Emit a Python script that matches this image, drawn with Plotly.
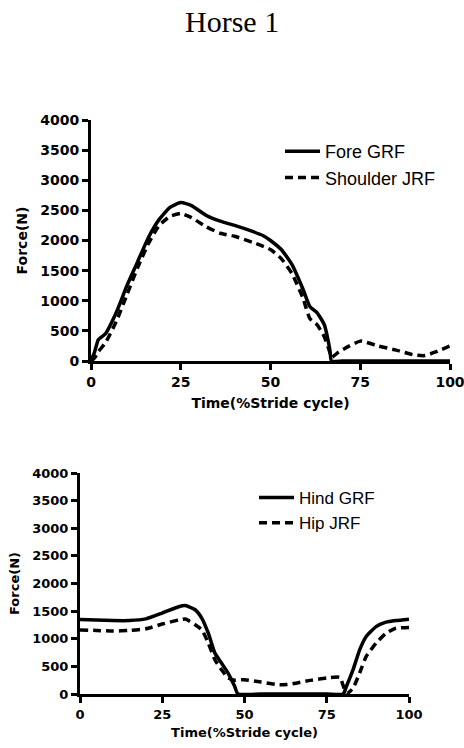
import plotly.graph_objects as go

# ---- data ----
fore_x = [0, 1, 2, 2.5, 4, 7, 10, 13, 16, 19, 22, 25, 28, 32, 36, 40, 45, 48, 50, 53, 56, 59, 61, 63, 65, 66.5, 67, 70, 80, 90, 100]
fore_y = [0, 150, 350, 380, 450, 800, 1250, 1650, 2050, 2350, 2550, 2630, 2580, 2420, 2320, 2250, 2150, 2080, 2000, 1850, 1600, 1200, 900, 800, 600, 200, 0, 0, 0, 0, 0]

shoulder_x = [0, 1, 2, 4, 7, 10, 13, 16, 19, 22, 25, 28, 32, 36, 40, 45, 50, 53, 56, 59, 61, 63, 65, 66.5, 67, 69, 72, 75, 80, 85, 90, 93, 96, 100]
shoulder_y = [0, 50, 150, 300, 650, 1100, 1550, 1950, 2250, 2400, 2450, 2380, 2230, 2120, 2070, 1970, 1850, 1700, 1450, 1050, 700, 600, 400, 150, 60, 150, 250, 330, 250, 180, 100, 90, 150, 250]

hind_x = [0, 5, 10, 15, 20, 25, 30, 32, 35, 37, 39, 41, 43, 45, 47, 48, 55, 65, 75, 80, 81, 83, 85, 87, 90, 93, 96, 100]
hind_y = [1350, 1340, 1330, 1330, 1360, 1465, 1580, 1600, 1525, 1375, 1100, 740, 560, 380, 140, 0, 0, 0, 0, 0, 140, 440, 800, 1040, 1220, 1300, 1330, 1355]

hip_x = [0, 5, 10, 15, 20, 25, 30, 32, 35, 37, 39, 41, 43, 45, 47, 50, 55, 60, 63, 66, 70, 75, 79, 80, 81, 83, 85, 87, 90, 93, 96, 100]
hip_y = [1160, 1150, 1140, 1150, 1180, 1266, 1340, 1357, 1254, 1164, 920, 620, 440, 290, 250, 260, 217, 170, 170, 200, 247, 290, 300, 150, 0, 108, 380, 680, 920, 1100, 1190, 1205]

x_ticks = [0, 25, 50, 75, 100]
y_ticks = [0, 500, 1000, 1500, 2000, 2500, 3000, 3500, 4000]

W, H = 464, 748

def px_x(p):
    return p / W

def px_y(p):
    return 1 - p / H

fig = go.Figure()

line_solid = dict(color="black", width=3.5, shape="spline", smoothing=0.5)
line_dash = dict(color="black", width=3.5, dash="8px,5px", shape="spline", smoothing=0.5)

fig.add_trace(go.Scatter(x=fore_x, y=fore_y, mode="lines", name="Fore GRF",
                         line=line_solid, xaxis="x", yaxis="y", legend="legend"))
fig.add_trace(go.Scatter(x=shoulder_x, y=shoulder_y, mode="lines", name="Shoulder JRF",
                         line=line_dash, xaxis="x", yaxis="y", legend="legend"))
fig.add_trace(go.Scatter(x=hind_x, y=hind_y, mode="lines", name="Hind GRF",
                         line=line_solid, xaxis="x2", yaxis="y2", legend="legend2"))
fig.add_trace(go.Scatter(x=hip_x, y=hip_y, mode="lines", name="Hip JRF",
                         line=line_dash, xaxis="x2", yaxis="y2", legend="legend2"))

FAM = "DejaVu Sans"

def xaxis(domain, anchor, fs, standoff):
    return dict(domain=domain, anchor=anchor, range=[0, 100], tickvals=x_ticks,
                showgrid=False, zeroline=False, showline=True, linecolor="black", linewidth=3,
                ticks="outside", ticklen=6, tickwidth=3, tickcolor="black", automargin=False,
                ticklabeloverflow="allow",
                tickfont=dict(family=FAM, size=fs, color="black", weight="bold"),
                title=dict(text="Time(%Stride cycle)", standoff=standoff,
                           font=dict(family=FAM, size=fs, color="black", weight="bold")))

def yaxis(domain, anchor, fs, standoff):
    return dict(domain=domain, anchor=anchor, range=[0, 4000], tickvals=y_ticks,
                showgrid=False, zeroline=False, showline=True, linecolor="black", linewidth=3,
                ticks="outside", ticklen=6, tickwidth=3, tickcolor="black", automargin=False,
                ticklabeloverflow="allow",
                tickfont=dict(family=FAM, size=fs, color="black", weight="bold"),
                title=dict(text="Force(N)", standoff=standoff,
                           font=dict(family=FAM, size=fs, color="black", weight="bold")))

fig.update_layout(
    width=W, height=H, margin=dict(l=0, r=0, t=0, b=0, autoexpand=False),
    paper_bgcolor="white", plot_bgcolor="white",
    xaxis=xaxis([px_x(91), px_x(450)], "y", 14, 10),
    yaxis=yaxis([px_y(361), px_y(120)], "x", 14, 10),
    xaxis2=xaxis([px_x(80), px_x(409)], "y2", 13, 8),
    yaxis2=yaxis([px_y(694), px_y(473)], "x2", 13, 10),
    legend=dict(x=px_x(280), y=px_y(133), xanchor="left", yanchor="top",
                font=dict(family="Liberation Sans, Arial", size=18, color="black"),
                bgcolor="rgba(0,0,0,0)", itemwidth=35, tracegroupgap=0),
    legend2=dict(x=px_x(254), y=px_y(480), xanchor="left", yanchor="top",
                 font=dict(family="Liberation Sans, Arial", size=17, color="black"),
                 bgcolor="rgba(0,0,0,0)", itemwidth=35, tracegroupgap=0),
    annotations=[dict(text="Horse 1", x=px_x(232), y=px_y(21), xref="paper", yref="paper",
                      showarrow=False, xanchor="center", yanchor="middle",
                      font=dict(family="Liberation Serif, Times New Roman", size=30, color="black"))],
    showlegend=True,
)

fig.write_html("out.html")
